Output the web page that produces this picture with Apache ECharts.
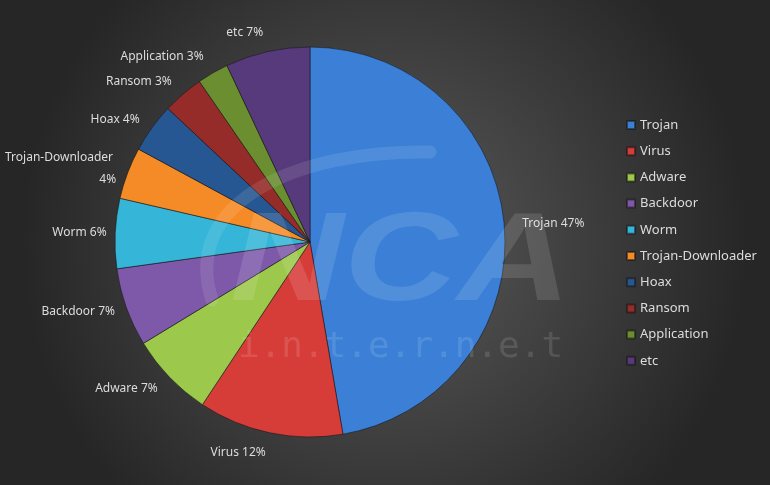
<!DOCTYPE html>
<html>
<head>
<meta charset="utf-8">
<script src="https://cdn.jsdelivr.net/npm/echarts@6/dist/echarts.min.js"></script>
<style>html,body{margin:0;padding:0;background:#333;}#c{width:770px;height:485px;}</style>
</head>
<body>
<div id="c"></div>
<script>
const categories = ['Trojan','Virus','Adware','Backdoor','Worm','Trojan-Downloader','Hoax','Ransom','Application','etc'];
const shares = [47.3, 12.0, 7.0, 6.5, 5.8, 4.3, 4.1, 3.4, 2.6, 7.0];
const colors = ['#3b80d6','#d63d39','#9cc84b','#7e59a9','#35b5d7','#f58b27','#275792','#952c29','#6b8e31','#563a7b'];

const chart = echarts.init(document.getElementById('c'));
const total = shares.reduce((a, b) => a + b, 0);
let cum = 0;
const data = categories.map((n, i) => {
  const mid = (cum + shares[i] / 2) / total * 2 * Math.PI;
  cum += shares[i];
  const s = Math.sin(mid), c = Math.abs(Math.cos(mid));
  const len = (s > 0 ? 17 : 8) + 12 * c;
  return { name: n, value: shares[i], itemStyle: { color: colors[i] }, labelLine: { length: len } };
});

chart.setOption({
  backgroundColor: {
    type: 'radial', x: 0.5, y: 0.5, r: 0.75,
    colorStops: [{ offset: 0, color: '#5b5b5b' }, { offset: 1, color: '#262626' }]
  },
  animation: false,
  legend: {
    orient: 'vertical', left: 626, top: 118, padding: 0,
    itemWidth: 8, itemHeight: 8, itemGap: 12.2,
    icon: 'rect',
    textStyle: { color: '#dcdcdc', fontSize: 13, fontFamily: 'Noto Sans', lineHeight: 14 },
    data: categories
  },
  graphic: [
    { type: 'bezierCurve', z: 100, silent: true,
      shape: { x1: 212, y1: 300, cpx1: 180, cpy1: 200, cpx2: 300, cpy2: 150, x2: 430, y2: 152 },
      style: { stroke: 'rgba(255,255,255,0.10)', lineWidth: 13, lineCap: 'round', fill: null } },
    { type: 'text', x: 230, y: 202, scaleX: 1.25, z: 100, silent: true,
      style: { x: 0, y: 0, text: 'NCA', font: 'italic bold 126px "Liberation Sans"', fill: 'rgba(255,255,255,0.12)', verticalAlign: 'top' } },
    { type: 'text', x: 238, y: 330, z: 100, silent: true,
      style: { x: 0, y: 0, text: 'i.n.t.e.r.n.e.t', font: '36px "DejaVu Sans Mono"', fill: 'rgba(255,255,255,0.12)', verticalAlign: 'top' } }
  ],
  series: [{
    type: 'pie',
    center: [310, 242],
    radius: 195,
    startAngle: 90,
    clockwise: true,
    percentPrecision: 0,
    data: data,
    itemStyle: { borderColor: 'rgba(20,20,20,0.55)', borderWidth: 1 },
    label: {
      show: true, position: 'outside',
      formatter: '{b} {d}%',
      color: '#dcdcdc', fontSize: 12, fontFamily: 'Noto Sans',
      width: 115, overflow: 'break', lineHeight: 22,
      distanceToLabelLine: 0
    },
    labelLine: { show: false, length2: 0 },
    emphasis: { disabled: true }
  }]
});
</script>
</body>
</html>
